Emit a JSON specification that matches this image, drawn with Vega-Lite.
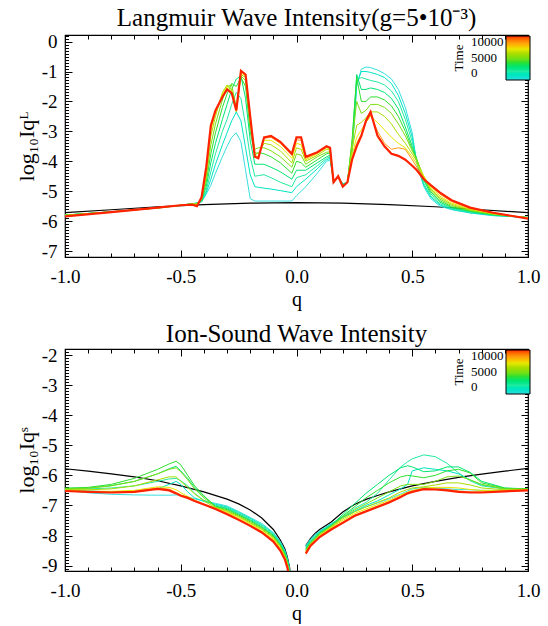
{
"$schema":"https://vega.github.io/schema/vega-lite/v6.json",
"background":"white",
"padding":{"left":14,"top":4,"right":0,"bottom":0},
"config":{"font":"Liberation Serif","view":{"stroke":"black","strokeWidth":1.2},
"style":{"guide-label":{"font":"Liberation Serif"},"guide-title":{"font":"Liberation Serif"}},
"axis":{"domain":false,"grid":false,"tickColor":"black","labelColor":"black","titleColor":"black","labelFont":"Liberation Serif","titleFont":"Liberation Serif","labelFontSize":19,"titleFontSize":20,"titleFontWeight":"normal","labelOverlap":false,"labelFlush":false,"tickWidth":1,"minExtent":0},
"title":{"font":"Liberation Serif","fontSize":25,"fontWeight":"normal","color":"black","offset":-4},
"legend":{"labelFont":"Liberation Serif","titleFont":"Liberation Serif","labelColor":"black","titleColor":"black"}},
"datasets":{
"LK":[{"q":-1,"v":-5.72},{"q":-0.8,"v":-5.62},{"q":-0.6,"v":-5.52},{"q":-0.4,"v":-5.45},{"q":-0.2,"v":-5.4},{"q":0,"v":-5.38},{"q":0.2,"v":-5.4},{"q":0.4,"v":-5.45},{"q":0.6,"v":-5.52},{"q":0.8,"v":-5.62},{"q":1,"v":-5.72}],
"L":[
{"t":0,"q":-1,"v":-5.8},{"t":0,"q":-0.8,"v":-5.69},{"t":0,"q":-0.6,"v":-5.56},{"t":0,"q":-0.5,"v":-5.47},{"t":0,"q":-0.45,"v":-5.42},{"t":0,"q":-0.43,"v":-5.4},{"t":0,"q":-0.41,"v":-5.36},{"t":0,"q":-0.39,"v":-5.1},{"t":0,"q":-0.37,"v":-4.8},{"t":0,"q":-0.35,"v":-4.4},{"t":0,"q":-0.32,"v":-3.85},{"t":0,"q":-0.3,"v":-3.5},{"t":0,"q":-0.28,"v":-3.2},{"t":0,"q":-0.26,"v":-3.05},{"t":0,"q":-0.24,"v":-3.35},{"t":0,"q":-0.22,"v":-4.3},{"t":0,"q":-0.2,"v":-5.25},{"t":0,"q":-0.18,"v":-5.33},{"t":0,"q":-0.165,"v":-5.33},{"t":0,"q":-0.14,"v":-5.33},{"t":0,"q":-0.11,"v":-5.33},{"t":0,"q":-0.07,"v":-5.33},{"t":0,"q":-0.02,"v":-5.33},{"t":0,"q":0,"v":-5.15},{"t":0,"q":0.02,"v":-5.0},{"t":0,"q":0.04,"v":-4.85},{"t":0,"q":0.09,"v":-4.4},{"t":0,"q":0.13,"v":-4.0},{"t":0,"q":0.145,"v":-3.95},{"t":0,"q":0.16,"v":-4.65},{"t":0,"q":0.18,"v":-4.55},{"t":0,"q":0.2,"v":-4.75},{"t":0,"q":0.22,"v":-4.7},{"t":0,"q":0.24,"v":-3.8},{"t":0,"q":0.26,"v":-1.5},{"t":0,"q":0.28,"v":-0.92},{"t":0,"q":0.3,"v":-0.85},{"t":0,"q":0.32,"v":-0.87},{"t":0,"q":0.35,"v":-0.95},{"t":0,"q":0.38,"v":-1.07},{"t":0,"q":0.41,"v":-1.25},{"t":0,"q":0.44,"v":-1.6},{"t":0,"q":0.47,"v":-2.2},{"t":0,"q":0.5,"v":-3.05},{"t":0,"q":0.52,"v":-4.1},{"t":0,"q":0.55,"v":-4.85},{"t":0,"q":0.58,"v":-5.25},{"t":0,"q":0.62,"v":-5.5},{"t":0,"q":0.67,"v":-5.62},{"t":0,"q":0.75,"v":-5.73},{"t":0,"q":0.85,"v":-5.82},{"t":0,"q":1,"v":-5.88},
{"t":1000,"q":-1,"v":-5.8},{"t":1000,"q":-0.8,"v":-5.69},{"t":1000,"q":-0.6,"v":-5.56},{"t":1000,"q":-0.5,"v":-5.47},{"t":1000,"q":-0.45,"v":-5.42},{"t":1000,"q":-0.43,"v":-5.4},{"t":1000,"q":-0.41,"v":-5.35},{"t":1000,"q":-0.39,"v":-5.05},{"t":1000,"q":-0.37,"v":-4.6},{"t":1000,"q":-0.35,"v":-4.1},{"t":1000,"q":-0.32,"v":-3.45},{"t":1000,"q":-0.3,"v":-3.05},{"t":1000,"q":-0.28,"v":-2.65},{"t":1000,"q":-0.26,"v":-2.35},{"t":1000,"q":-0.24,"v":-2.65},{"t":1000,"q":-0.22,"v":-3.55},{"t":1000,"q":-0.2,"v":-4.45},{"t":1000,"q":-0.18,"v":-4.85},{"t":1000,"q":-0.165,"v":-4.87},{"t":1000,"q":-0.14,"v":-4.9},{"t":1000,"q":-0.11,"v":-4.93},{"t":1000,"q":-0.07,"v":-4.98},{"t":1000,"q":-0.02,"v":-5.05},{"t":1000,"q":0,"v":-4.85},{"t":1000,"q":0.02,"v":-4.72},{"t":1000,"q":0.04,"v":-4.6},{"t":1000,"q":0.09,"v":-4.25},{"t":1000,"q":0.13,"v":-3.95},{"t":1000,"q":0.145,"v":-3.9},{"t":1000,"q":0.16,"v":-4.67},{"t":1000,"q":0.18,"v":-4.52},{"t":1000,"q":0.2,"v":-4.77},{"t":1000,"q":0.22,"v":-4.7},{"t":1000,"q":0.24,"v":-3.7},{"t":1000,"q":0.26,"v":-1.4},{"t":1000,"q":0.28,"v":-1.0},{"t":1000,"q":0.3,"v":-1.0},{"t":1000,"q":0.32,"v":-1.03},{"t":1000,"q":0.35,"v":-1.1},{"t":1000,"q":0.38,"v":-1.2},{"t":1000,"q":0.41,"v":-1.4},{"t":1000,"q":0.44,"v":-1.8},{"t":1000,"q":0.47,"v":-2.4},{"t":1000,"q":0.5,"v":-3.2},{"t":1000,"q":0.52,"v":-4.05},{"t":1000,"q":0.55,"v":-4.8},{"t":1000,"q":0.58,"v":-5.2},{"t":1000,"q":0.62,"v":-5.46},{"t":1000,"q":0.67,"v":-5.6},{"t":1000,"q":0.75,"v":-5.72},{"t":1000,"q":0.85,"v":-5.81},{"t":1000,"q":1,"v":-5.88},
{"t":2000,"q":-1,"v":-5.8},{"t":2000,"q":-0.8,"v":-5.69},{"t":2000,"q":-0.6,"v":-5.56},{"t":2000,"q":-0.5,"v":-5.47},{"t":2000,"q":-0.45,"v":-5.42},{"t":2000,"q":-0.43,"v":-5.4},{"t":2000,"q":-0.41,"v":-5.34},{"t":2000,"q":-0.39,"v":-4.98},{"t":2000,"q":-0.37,"v":-4.35},{"t":2000,"q":-0.35,"v":-3.75},{"t":2000,"q":-0.32,"v":-3.0},{"t":2000,"q":-0.3,"v":-2.6},{"t":2000,"q":-0.28,"v":-2.1},{"t":2000,"q":-0.26,"v":-1.7},{"t":2000,"q":-0.24,"v":-1.9},{"t":2000,"q":-0.22,"v":-2.8},{"t":2000,"q":-0.2,"v":-3.85},{"t":2000,"q":-0.18,"v":-4.5},{"t":2000,"q":-0.165,"v":-4.48},{"t":2000,"q":-0.14,"v":-4.45},{"t":2000,"q":-0.11,"v":-4.55},{"t":2000,"q":-0.07,"v":-4.7},{"t":2000,"q":-0.02,"v":-4.85},{"t":2000,"q":0,"v":-4.55},{"t":2000,"q":0.02,"v":-4.5},{"t":2000,"q":0.04,"v":-4.45},{"t":2000,"q":0.09,"v":-4.15},{"t":2000,"q":0.13,"v":-3.9},{"t":2000,"q":0.145,"v":-3.85},{"t":2000,"q":0.16,"v":-4.68},{"t":2000,"q":0.18,"v":-4.5},{"t":2000,"q":0.2,"v":-4.78},{"t":2000,"q":0.22,"v":-4.7},{"t":2000,"q":0.24,"v":-3.6},{"t":2000,"q":0.26,"v":-1.3},{"t":2000,"q":0.28,"v":-1.2},{"t":2000,"q":0.3,"v":-1.25},{"t":2000,"q":0.32,"v":-1.3},{"t":2000,"q":0.35,"v":-1.35},{"t":2000,"q":0.38,"v":-1.45},{"t":2000,"q":0.41,"v":-1.65},{"t":2000,"q":0.44,"v":-2.0},{"t":2000,"q":0.47,"v":-2.6},{"t":2000,"q":0.5,"v":-3.35},{"t":2000,"q":0.52,"v":-4.0},{"t":2000,"q":0.55,"v":-4.75},{"t":2000,"q":0.58,"v":-5.15},{"t":2000,"q":0.62,"v":-5.42},{"t":2000,"q":0.67,"v":-5.58},{"t":2000,"q":0.75,"v":-5.7},{"t":2000,"q":0.85,"v":-5.8},{"t":2000,"q":1,"v":-5.88},
{"t":3000,"q":-1,"v":-5.8},{"t":3000,"q":-0.8,"v":-5.69},{"t":3000,"q":-0.6,"v":-5.56},{"t":3000,"q":-0.5,"v":-5.47},{"t":3000,"q":-0.45,"v":-5.42},{"t":3000,"q":-0.43,"v":-5.4},{"t":3000,"q":-0.41,"v":-5.32},{"t":3000,"q":-0.39,"v":-4.85},{"t":3000,"q":-0.37,"v":-4.05},{"t":3000,"q":-0.35,"v":-3.4},{"t":3000,"q":-0.32,"v":-2.6},{"t":3000,"q":-0.3,"v":-2.1},{"t":3000,"q":-0.28,"v":-1.6},{"t":3000,"q":-0.26,"v":-1.25},{"t":3000,"q":-0.24,"v":-1.15},{"t":3000,"q":-0.22,"v":-1.9},{"t":3000,"q":-0.2,"v":-3.3},{"t":3000,"q":-0.18,"v":-4.1},{"t":3000,"q":-0.165,"v":-4.1},{"t":3000,"q":-0.14,"v":-4.1},{"t":3000,"q":-0.11,"v":-4.2},{"t":3000,"q":-0.07,"v":-4.35},{"t":3000,"q":-0.02,"v":-4.6},{"t":3000,"q":0,"v":-4.3},{"t":3000,"q":0.02,"v":-4.3},{"t":3000,"q":0.04,"v":-4.3},{"t":3000,"q":0.09,"v":-4.05},{"t":3000,"q":0.13,"v":-3.85},{"t":3000,"q":0.145,"v":-3.8},{"t":3000,"q":0.16,"v":-4.7},{"t":3000,"q":0.18,"v":-4.5},{"t":3000,"q":0.2,"v":-4.8},{"t":3000,"q":0.22,"v":-4.7},{"t":3000,"q":0.24,"v":-3.4},{"t":3000,"q":0.26,"v":-1.1},{"t":3000,"q":0.28,"v":-1.6},{"t":3000,"q":0.3,"v":-1.6},{"t":3000,"q":0.32,"v":-1.55},{"t":3000,"q":0.35,"v":-1.6},{"t":3000,"q":0.38,"v":-1.7},{"t":3000,"q":0.41,"v":-1.9},{"t":3000,"q":0.44,"v":-2.25},{"t":3000,"q":0.47,"v":-2.85},{"t":3000,"q":0.5,"v":-3.5},{"t":3000,"q":0.52,"v":-3.95},{"t":3000,"q":0.55,"v":-4.65},{"t":3000,"q":0.58,"v":-5.08},{"t":3000,"q":0.62,"v":-5.37},{"t":3000,"q":0.67,"v":-5.55},{"t":3000,"q":0.75,"v":-5.68},{"t":3000,"q":0.85,"v":-5.79},{"t":3000,"q":1,"v":-5.88},
{"t":4000,"q":-1,"v":-5.8},{"t":4000,"q":-0.8,"v":-5.69},{"t":4000,"q":-0.6,"v":-5.56},{"t":4000,"q":-0.5,"v":-5.47},{"t":4000,"q":-0.45,"v":-5.42},{"t":4000,"q":-0.43,"v":-5.42},{"t":4000,"q":-0.41,"v":-5.3},{"t":4000,"q":-0.39,"v":-4.7},{"t":4000,"q":-0.37,"v":-3.75},{"t":4000,"q":-0.35,"v":-3.05},{"t":4000,"q":-0.32,"v":-2.2},{"t":4000,"q":-0.3,"v":-1.75},{"t":4000,"q":-0.28,"v":-1.4},{"t":4000,"q":-0.26,"v":-1.5},{"t":4000,"q":-0.24,"v":-1.2},{"t":4000,"q":-0.22,"v":-1.5},{"t":4000,"q":-0.2,"v":-3.0},{"t":4000,"q":-0.18,"v":-3.8},{"t":4000,"q":-0.165,"v":-3.7},{"t":4000,"q":-0.14,"v":-3.75},{"t":4000,"q":-0.11,"v":-3.85},{"t":4000,"q":-0.07,"v":-4.05},{"t":4000,"q":-0.02,"v":-4.4},{"t":4000,"q":0,"v":-4.0},{"t":4000,"q":0.02,"v":-4.05},{"t":4000,"q":0.04,"v":-4.2},{"t":4000,"q":0.09,"v":-3.95},{"t":4000,"q":0.13,"v":-3.75},{"t":4000,"q":0.145,"v":-3.72},{"t":4000,"q":0.16,"v":-4.7},{"t":4000,"q":0.18,"v":-4.5},{"t":4000,"q":0.2,"v":-4.8},{"t":4000,"q":0.22,"v":-4.7},{"t":4000,"q":0.24,"v":-3.3},{"t":4000,"q":0.26,"v":-1.2},{"t":4000,"q":0.28,"v":-2.0},{"t":4000,"q":0.3,"v":-2.0},{"t":4000,"q":0.32,"v":-1.85},{"t":4000,"q":0.35,"v":-1.85},{"t":4000,"q":0.38,"v":-1.95},{"t":4000,"q":0.41,"v":-2.15},{"t":4000,"q":0.44,"v":-2.5},{"t":4000,"q":0.47,"v":-3.0},{"t":4000,"q":0.5,"v":-3.6},{"t":4000,"q":0.52,"v":-3.95},{"t":4000,"q":0.55,"v":-4.6},{"t":4000,"q":0.58,"v":-5.02},{"t":4000,"q":0.62,"v":-5.32},{"t":4000,"q":0.67,"v":-5.52},{"t":4000,"q":0.75,"v":-5.66},{"t":4000,"q":0.85,"v":-5.78},{"t":4000,"q":1,"v":-5.88},
{"t":5000,"q":-1,"v":-5.8},{"t":5000,"q":-0.8,"v":-5.69},{"t":5000,"q":-0.6,"v":-5.56},{"t":5000,"q":-0.5,"v":-5.47},{"t":5000,"q":-0.45,"v":-5.42},{"t":5000,"q":-0.43,"v":-5.42},{"t":5000,"q":-0.41,"v":-5.28},{"t":5000,"q":-0.39,"v":-4.55},{"t":5000,"q":-0.37,"v":-3.45},{"t":5000,"q":-0.35,"v":-2.75},{"t":5000,"q":-0.32,"v":-1.95},{"t":5000,"q":-0.3,"v":-1.5},{"t":5000,"q":-0.28,"v":-1.45},{"t":5000,"q":-0.26,"v":-2.2},{"t":5000,"q":-0.24,"v":-1.15},{"t":5000,"q":-0.22,"v":-1.3},{"t":5000,"q":-0.2,"v":-2.8},{"t":5000,"q":-0.18,"v":-3.6},{"t":5000,"q":-0.165,"v":-3.55},{"t":5000,"q":-0.14,"v":-3.55},{"t":5000,"q":-0.11,"v":-3.65},{"t":5000,"q":-0.07,"v":-3.85},{"t":5000,"q":-0.02,"v":-4.2},{"t":5000,"q":0,"v":-3.75},{"t":5000,"q":0.02,"v":-3.8},{"t":5000,"q":0.04,"v":-4.1},{"t":5000,"q":0.09,"v":-3.85},{"t":5000,"q":0.13,"v":-3.7},{"t":5000,"q":0.145,"v":-3.68},{"t":5000,"q":0.16,"v":-4.72},{"t":5000,"q":0.18,"v":-4.5},{"t":5000,"q":0.2,"v":-4.82},{"t":5000,"q":0.22,"v":-4.7},{"t":5000,"q":0.24,"v":-3.4},{"t":5000,"q":0.26,"v":-2.0},{"t":5000,"q":0.28,"v":-2.4},{"t":5000,"q":0.3,"v":-2.3},{"t":5000,"q":0.32,"v":-2.1},{"t":5000,"q":0.35,"v":-2.1},{"t":5000,"q":0.38,"v":-2.2},{"t":5000,"q":0.41,"v":-2.4},{"t":5000,"q":0.44,"v":-2.75},{"t":5000,"q":0.47,"v":-3.15},{"t":5000,"q":0.5,"v":-3.65},{"t":5000,"q":0.52,"v":-3.95},{"t":5000,"q":0.55,"v":-4.55},{"t":5000,"q":0.58,"v":-4.97},{"t":5000,"q":0.62,"v":-5.27},{"t":5000,"q":0.67,"v":-5.48},{"t":5000,"q":0.75,"v":-5.64},{"t":5000,"q":0.85,"v":-5.77},{"t":5000,"q":1,"v":-5.88},
{"t":6000,"q":-1,"v":-5.81},{"t":6000,"q":-0.8,"v":-5.69},{"t":6000,"q":-0.6,"v":-5.56},{"t":6000,"q":-0.5,"v":-5.47},{"t":6000,"q":-0.45,"v":-5.43},{"t":6000,"q":-0.43,"v":-5.43},{"t":6000,"q":-0.41,"v":-5.27},{"t":6000,"q":-0.39,"v":-4.45},{"t":6000,"q":-0.37,"v":-3.15},{"t":6000,"q":-0.35,"v":-2.5},{"t":6000,"q":-0.32,"v":-1.7},{"t":6000,"q":-0.3,"v":-1.45},{"t":6000,"q":-0.28,"v":-1.6},{"t":6000,"q":-0.26,"v":-2.35},{"t":6000,"q":-0.24,"v":-1.1},{"t":6000,"q":-0.22,"v":-1.2},{"t":6000,"q":-0.2,"v":-2.7},{"t":6000,"q":-0.18,"v":-3.7},{"t":6000,"q":-0.165,"v":-3.75},{"t":6000,"q":-0.14,"v":-3.4},{"t":6000,"q":-0.11,"v":-3.45},{"t":6000,"q":-0.07,"v":-3.65},{"t":6000,"q":-0.02,"v":-4.05},{"t":6000,"q":0,"v":-3.55},{"t":6000,"q":0.02,"v":-3.6},{"t":6000,"q":0.04,"v":-4.0},{"t":6000,"q":0.09,"v":-3.8},{"t":6000,"q":0.13,"v":-3.6},{"t":6000,"q":0.145,"v":-3.62},{"t":6000,"q":0.16,"v":-4.72},{"t":6000,"q":0.18,"v":-4.5},{"t":6000,"q":0.2,"v":-4.83},{"t":6000,"q":0.22,"v":-4.7},{"t":6000,"q":0.24,"v":-3.6},{"t":6000,"q":0.26,"v":-2.8},{"t":6000,"q":0.28,"v":-2.7},{"t":6000,"q":0.3,"v":-2.55},{"t":6000,"q":0.32,"v":-2.35},{"t":6000,"q":0.35,"v":-2.35},{"t":6000,"q":0.38,"v":-2.5},{"t":6000,"q":0.41,"v":-2.75},{"t":6000,"q":0.44,"v":-3.1},{"t":6000,"q":0.47,"v":-3.4},{"t":6000,"q":0.5,"v":-3.75},{"t":6000,"q":0.52,"v":-4.0},{"t":6000,"q":0.55,"v":-4.5},{"t":6000,"q":0.58,"v":-4.92},{"t":6000,"q":0.62,"v":-5.22},{"t":6000,"q":0.67,"v":-5.44},{"t":6000,"q":0.75,"v":-5.62},{"t":6000,"q":0.85,"v":-5.76},{"t":6000,"q":1,"v":-5.89},
{"t":7000,"q":-1,"v":-5.82},{"t":7000,"q":-0.8,"v":-5.7},{"t":7000,"q":-0.6,"v":-5.56},{"t":7000,"q":-0.5,"v":-5.47},{"t":7000,"q":-0.45,"v":-5.44},{"t":7000,"q":-0.43,"v":-5.45},{"t":7000,"q":-0.41,"v":-5.25},{"t":7000,"q":-0.39,"v":-4.35},{"t":7000,"q":-0.37,"v":-2.95},{"t":7000,"q":-0.35,"v":-2.4},{"t":7000,"q":-0.32,"v":-1.75},{"t":7000,"q":-0.3,"v":-1.5},{"t":7000,"q":-0.28,"v":-1.65},{"t":7000,"q":-0.26,"v":-2.3},{"t":7000,"q":-0.24,"v":-1.05},{"t":7000,"q":-0.22,"v":-1.15},{"t":7000,"q":-0.2,"v":-2.6},{"t":7000,"q":-0.18,"v":-3.8},{"t":7000,"q":-0.165,"v":-3.85},{"t":7000,"q":-0.14,"v":-3.3},{"t":7000,"q":-0.11,"v":-3.3},{"t":7000,"q":-0.07,"v":-3.5},{"t":7000,"q":-0.02,"v":-3.9},{"t":7000,"q":0,"v":-3.4},{"t":7000,"q":0.02,"v":-3.45},{"t":7000,"q":0.04,"v":-3.95},{"t":7000,"q":0.09,"v":-3.75},{"t":7000,"q":0.13,"v":-3.55},{"t":7000,"q":0.145,"v":-3.58},{"t":7000,"q":0.16,"v":-4.7},{"t":7000,"q":0.18,"v":-4.5},{"t":7000,"q":0.2,"v":-4.84},{"t":7000,"q":0.22,"v":-4.7},{"t":7000,"q":0.24,"v":-3.8},{"t":7000,"q":0.26,"v":-3.2},{"t":7000,"q":0.28,"v":-2.95},{"t":7000,"q":0.3,"v":-2.7},{"t":7000,"q":0.32,"v":-2.5},{"t":7000,"q":0.35,"v":-2.7},{"t":7000,"q":0.38,"v":-2.95},{"t":7000,"q":0.41,"v":-3.2},{"t":7000,"q":0.44,"v":-3.4},{"t":7000,"q":0.47,"v":-3.55},{"t":7000,"q":0.5,"v":-3.85},{"t":7000,"q":0.52,"v":-4.1},{"t":7000,"q":0.55,"v":-4.5},{"t":7000,"q":0.58,"v":-4.87},{"t":7000,"q":0.62,"v":-5.17},{"t":7000,"q":0.67,"v":-5.4},{"t":7000,"q":0.75,"v":-5.6},{"t":7000,"q":0.85,"v":-5.75},{"t":7000,"q":1,"v":-5.9},
{"t":8500,"q":-1,"v":-5.83},{"t":8500,"q":-0.8,"v":-5.7},{"t":8500,"q":-0.6,"v":-5.55},{"t":8500,"q":-0.5,"v":-5.47},{"t":8500,"q":-0.45,"v":-5.45},{"t":8500,"q":-0.43,"v":-5.48},{"t":8500,"q":-0.41,"v":-5.22},{"t":8500,"q":-0.39,"v":-4.25},{"t":8500,"q":-0.37,"v":-2.85},{"t":8500,"q":-0.35,"v":-2.33},{"t":8500,"q":-0.32,"v":-1.82},{"t":8500,"q":-0.3,"v":-1.57},{"t":8500,"q":-0.28,"v":-1.7},{"t":8500,"q":-0.26,"v":-2.3},{"t":8500,"q":-0.24,"v":-1.0},{"t":8500,"q":-0.22,"v":-1.1},{"t":8500,"q":-0.2,"v":-2.55},{"t":8500,"q":-0.18,"v":-3.85},{"t":8500,"q":-0.165,"v":-3.88},{"t":8500,"q":-0.14,"v":-3.23},{"t":8500,"q":-0.11,"v":-3.2},{"t":8500,"q":-0.07,"v":-3.4},{"t":8500,"q":-0.02,"v":-3.8},{"t":8500,"q":0,"v":-3.28},{"t":8500,"q":0.02,"v":-3.3},{"t":8500,"q":0.04,"v":-3.9},{"t":8500,"q":0.09,"v":-3.72},{"t":8500,"q":0.13,"v":-3.52},{"t":8500,"q":0.145,"v":-3.56},{"t":8500,"q":0.16,"v":-4.7},{"t":8500,"q":0.18,"v":-4.5},{"t":8500,"q":0.2,"v":-4.85},{"t":8500,"q":0.22,"v":-4.7},{"t":8500,"q":0.24,"v":-3.9},{"t":8500,"q":0.26,"v":-3.4},{"t":8500,"q":0.28,"v":-3.1},{"t":8500,"q":0.3,"v":-2.7},{"t":8500,"q":0.32,"v":-2.45},{"t":8500,"q":0.35,"v":-3.0},{"t":8500,"q":0.38,"v":-3.4},{"t":8500,"q":0.41,"v":-3.6},{"t":8500,"q":0.44,"v":-3.55},{"t":8500,"q":0.47,"v":-3.6},{"t":8500,"q":0.5,"v":-3.95},{"t":8500,"q":0.52,"v":-4.2},{"t":8500,"q":0.55,"v":-4.55},{"t":8500,"q":0.58,"v":-4.83},{"t":8500,"q":0.62,"v":-5.1},{"t":8500,"q":0.67,"v":-5.35},{"t":8500,"q":0.75,"v":-5.57},{"t":8500,"q":0.85,"v":-5.74},{"t":8500,"q":1,"v":-5.91},
{"t":10000,"q":-1,"v":-5.84},{"t":10000,"q":-0.8,"v":-5.7},{"t":10000,"q":-0.6,"v":-5.55},{"t":10000,"q":-0.5,"v":-5.47},{"t":10000,"q":-0.45,"v":-5.45},{"t":10000,"q":-0.43,"v":-5.5},{"t":10000,"q":-0.41,"v":-5.2},{"t":10000,"q":-0.39,"v":-4.2},{"t":10000,"q":-0.37,"v":-2.8},{"t":10000,"q":-0.35,"v":-2.3},{"t":10000,"q":-0.32,"v":-1.85},{"t":10000,"q":-0.3,"v":-1.6},{"t":10000,"q":-0.28,"v":-1.72},{"t":10000,"q":-0.26,"v":-2.3},{"t":10000,"q":-0.24,"v":-0.98},{"t":10000,"q":-0.22,"v":-1.1},{"t":10000,"q":-0.2,"v":-2.5},{"t":10000,"q":-0.18,"v":-3.85},{"t":10000,"q":-0.165,"v":-3.9},{"t":10000,"q":-0.14,"v":-3.2},{"t":10000,"q":-0.11,"v":-3.15},{"t":10000,"q":-0.07,"v":-3.35},{"t":10000,"q":-0.02,"v":-3.75},{"t":10000,"q":0,"v":-3.2},{"t":10000,"q":0.02,"v":-3.2},{"t":10000,"q":0.04,"v":-3.85},{"t":10000,"q":0.09,"v":-3.7},{"t":10000,"q":0.13,"v":-3.5},{"t":10000,"q":0.145,"v":-3.55},{"t":10000,"q":0.16,"v":-4.7},{"t":10000,"q":0.18,"v":-4.5},{"t":10000,"q":0.2,"v":-4.85},{"t":10000,"q":0.22,"v":-4.7},{"t":10000,"q":0.24,"v":-3.95},{"t":10000,"q":0.26,"v":-3.5},{"t":10000,"q":0.28,"v":-3.15},{"t":10000,"q":0.3,"v":-2.65},{"t":10000,"q":0.32,"v":-2.35},{"t":10000,"q":0.35,"v":-3.15},{"t":10000,"q":0.38,"v":-3.5},{"t":10000,"q":0.41,"v":-3.75},{"t":10000,"q":0.44,"v":-3.82},{"t":10000,"q":0.47,"v":-3.95},{"t":10000,"q":0.5,"v":-4.15},{"t":10000,"q":0.52,"v":-4.3},{"t":10000,"q":0.55,"v":-4.6},{"t":10000,"q":0.58,"v":-4.8},{"t":10000,"q":0.62,"v":-5.05},{"t":10000,"q":0.67,"v":-5.3},{"t":10000,"q":0.75,"v":-5.55},{"t":10000,"q":0.85,"v":-5.72},{"t":10000,"q":1,"v":-5.92}
],
"SK":[{"s":1,"q":-1,"v":-5.78},{"s":1,"q":-0.9,"v":-5.86},{"s":1,"q":-0.8,"v":-5.95},{"s":1,"q":-0.7,"v":-6.05},{"s":1,"q":-0.6,"v":-6.18},{"s":1,"q":-0.5,"v":-6.35},{"s":1,"q":-0.4,"v":-6.55},{"s":1,"q":-0.3,"v":-6.79},{"s":1,"q":-0.25,"v":-6.95},{"s":1,"q":-0.2,"v":-7.15},{"s":1,"q":-0.15,"v":-7.42},{"s":1,"q":-0.1,"v":-7.8},{"s":1,"q":-0.07,"v":-8.15},{"s":1,"q":-0.05,"v":-8.45},{"s":1,"q":-0.04,"v":-8.7},{"s":1,"q":-0.03,"v":-9.05},{"s":1,"q":-0.02,"v":-9.8},
{"s":2,"q":0.04,"v":-8.34},{"s":2,"q":0.06,"v":-8.1},{"s":2,"q":0.08,"v":-7.93},{"s":2,"q":0.1,"v":-7.8},{"s":2,"q":0.15,"v":-7.55},{"s":2,"q":0.2,"v":-7.22},{"s":2,"q":0.25,"v":-6.97},{"s":2,"q":0.3,"v":-6.8},{"s":2,"q":0.35,"v":-6.67},{"s":2,"q":0.4,"v":-6.55},{"s":2,"q":0.5,"v":-6.35},{"s":2,"q":0.6,"v":-6.2},{"s":2,"q":0.7,"v":-6.07},{"s":2,"q":0.8,"v":-5.96},{"s":2,"q":0.9,"v":-5.86},{"s":2,"q":1,"v":-5.77}],
"SA":[
{"t":0,"q":-1,"v":-6.5},{"t":0,"q":-0.9,"v":-6.58},{"t":0,"q":-0.8,"v":-6.63},{"t":0,"q":-0.7,"v":-6.65},{"t":0,"q":-0.6,"v":-6.66},{"t":0,"q":-0.55,"v":-6.66},{"t":0,"q":-0.52,"v":-6.65},{"t":0,"q":-0.5,"v":-6.67},{"t":0,"q":-0.47,"v":-6.72},{"t":0,"q":-0.44,"v":-6.78},{"t":0,"q":-0.4,"v":-6.85},{"t":0,"q":-0.35,"v":-6.93},{"t":0,"q":-0.3,"v":-7.02},{"t":0,"q":-0.25,"v":-7.2},{"t":0,"q":-0.2,"v":-7.4},{"t":0,"q":-0.15,"v":-7.6},{"t":0,"q":-0.1,"v":-7.9},{"t":0,"q":-0.07,"v":-8.2},{"t":0,"q":-0.05,"v":-8.5},{"t":0,"q":-0.04,"v":-8.75},{"t":0,"q":-0.03,"v":-9.1},{"t":0,"q":-0.02,"v":-9.8},
{"t":1000,"q":-1,"v":-6.48},{"t":1000,"q":-0.9,"v":-6.52},{"t":1000,"q":-0.8,"v":-6.55},{"t":1000,"q":-0.7,"v":-6.55},{"t":1000,"q":-0.6,"v":-6.45},{"t":1000,"q":-0.55,"v":-6.3},{"t":1000,"q":-0.52,"v":-6.2},{"t":1000,"q":-0.5,"v":-6.3},{"t":1000,"q":-0.47,"v":-6.55},{"t":1000,"q":-0.44,"v":-6.75},{"t":1000,"q":-0.4,"v":-6.87},{"t":1000,"q":-0.35,"v":-6.96},{"t":1000,"q":-0.3,"v":-7.05},{"t":1000,"q":-0.25,"v":-7.23},{"t":1000,"q":-0.2,"v":-7.43},{"t":1000,"q":-0.15,"v":-7.64},{"t":1000,"q":-0.1,"v":-7.93},{"t":1000,"q":-0.07,"v":-8.23},{"t":1000,"q":-0.05,"v":-8.53},{"t":1000,"q":-0.04,"v":-8.78},{"t":1000,"q":-0.03,"v":-9.13},{"t":1000,"q":-0.02,"v":-9.8},
{"t":2000,"q":-1,"v":-6.45},{"t":2000,"q":-0.9,"v":-6.45},{"t":2000,"q":-0.8,"v":-6.42},{"t":2000,"q":-0.7,"v":-6.35},{"t":2000,"q":-0.6,"v":-6.2},{"t":2000,"q":-0.55,"v":-6.12},{"t":2000,"q":-0.52,"v":-6.1},{"t":2000,"q":-0.5,"v":-6.18},{"t":2000,"q":-0.47,"v":-6.35},{"t":2000,"q":-0.44,"v":-6.6},{"t":2000,"q":-0.4,"v":-6.83},{"t":2000,"q":-0.35,"v":-6.99},{"t":2000,"q":-0.3,"v":-7.08},{"t":2000,"q":-0.25,"v":-7.26},{"t":2000,"q":-0.2,"v":-7.46},{"t":2000,"q":-0.15,"v":-7.67},{"t":2000,"q":-0.1,"v":-7.96},{"t":2000,"q":-0.07,"v":-8.26},{"t":2000,"q":-0.05,"v":-8.56},{"t":2000,"q":-0.04,"v":-8.81},{"t":2000,"q":-0.03,"v":-9.16},{"t":2000,"q":-0.02,"v":-9.8},
{"t":3000,"q":-1,"v":-6.43},{"t":3000,"q":-0.9,"v":-6.42},{"t":3000,"q":-0.8,"v":-6.34},{"t":3000,"q":-0.7,"v":-6.2},{"t":3000,"q":-0.6,"v":-5.95},{"t":3000,"q":-0.55,"v":-5.78},{"t":3000,"q":-0.52,"v":-5.7},{"t":3000,"q":-0.5,"v":-5.85},{"t":3000,"q":-0.47,"v":-6.1},{"t":3000,"q":-0.44,"v":-6.4},{"t":3000,"q":-0.4,"v":-6.7},{"t":3000,"q":-0.35,"v":-7.02},{"t":3000,"q":-0.3,"v":-7.11},{"t":3000,"q":-0.25,"v":-7.29},{"t":3000,"q":-0.2,"v":-7.49},{"t":3000,"q":-0.15,"v":-7.71},{"t":3000,"q":-0.1,"v":-7.99},{"t":3000,"q":-0.07,"v":-8.29},{"t":3000,"q":-0.05,"v":-8.6},{"t":3000,"q":-0.04,"v":-8.84},{"t":3000,"q":-0.03,"v":-9.2},{"t":3000,"q":-0.02,"v":-9.8},
{"t":4000,"q":-1,"v":-6.43},{"t":4000,"q":-0.9,"v":-6.4},{"t":4000,"q":-0.8,"v":-6.3},{"t":4000,"q":-0.7,"v":-6.1},{"t":4000,"q":-0.6,"v":-5.8},{"t":4000,"q":-0.55,"v":-5.62},{"t":4000,"q":-0.52,"v":-5.53},{"t":4000,"q":-0.5,"v":-5.65},{"t":4000,"q":-0.47,"v":-6.0},{"t":4000,"q":-0.44,"v":-6.35},{"t":4000,"q":-0.4,"v":-6.68},{"t":4000,"q":-0.35,"v":-7.04},{"t":4000,"q":-0.3,"v":-7.14},{"t":4000,"q":-0.25,"v":-7.32},{"t":4000,"q":-0.2,"v":-7.52},{"t":4000,"q":-0.15,"v":-7.74},{"t":4000,"q":-0.1,"v":-8.02},{"t":4000,"q":-0.07,"v":-8.32},{"t":4000,"q":-0.05,"v":-8.63},{"t":4000,"q":-0.04,"v":-8.87},{"t":4000,"q":-0.03,"v":-9.23},{"t":4000,"q":-0.02,"v":-9.8},
{"t":5000,"q":-1,"v":-6.45},{"t":5000,"q":-0.9,"v":-6.43},{"t":5000,"q":-0.8,"v":-6.35},{"t":5000,"q":-0.7,"v":-6.2},{"t":5000,"q":-0.6,"v":-5.95},{"t":5000,"q":-0.55,"v":-5.8},{"t":5000,"q":-0.52,"v":-5.75},{"t":5000,"q":-0.5,"v":-5.88},{"t":5000,"q":-0.47,"v":-6.15},{"t":5000,"q":-0.44,"v":-6.45},{"t":5000,"q":-0.4,"v":-6.75},{"t":5000,"q":-0.35,"v":-7.06},{"t":5000,"q":-0.3,"v":-7.17},{"t":5000,"q":-0.25,"v":-7.35},{"t":5000,"q":-0.2,"v":-7.55},{"t":5000,"q":-0.15,"v":-7.77},{"t":5000,"q":-0.1,"v":-8.05},{"t":5000,"q":-0.07,"v":-8.35},{"t":5000,"q":-0.05,"v":-8.66},{"t":5000,"q":-0.04,"v":-8.9},{"t":5000,"q":-0.03,"v":-9.26},{"t":5000,"q":-0.02,"v":-9.8},
{"t":6000,"q":-1,"v":-6.47},{"t":6000,"q":-0.9,"v":-6.48},{"t":6000,"q":-0.8,"v":-6.45},{"t":6000,"q":-0.7,"v":-6.35},{"t":6000,"q":-0.6,"v":-6.15},{"t":6000,"q":-0.55,"v":-6.05},{"t":6000,"q":-0.52,"v":-6.05},{"t":6000,"q":-0.5,"v":-6.2},{"t":6000,"q":-0.47,"v":-6.4},{"t":6000,"q":-0.44,"v":-6.62},{"t":6000,"q":-0.4,"v":-6.85},{"t":6000,"q":-0.35,"v":-7.08},{"t":6000,"q":-0.3,"v":-7.2},{"t":6000,"q":-0.25,"v":-7.38},{"t":6000,"q":-0.2,"v":-7.58},{"t":6000,"q":-0.15,"v":-7.8},{"t":6000,"q":-0.1,"v":-8.08},{"t":6000,"q":-0.07,"v":-8.38},{"t":6000,"q":-0.05,"v":-8.69},{"t":6000,"q":-0.04,"v":-8.93},{"t":6000,"q":-0.03,"v":-9.3},{"t":6000,"q":-0.02,"v":-9.8},
{"t":7000,"q":-1,"v":-6.5},{"t":7000,"q":-0.9,"v":-6.53},{"t":7000,"q":-0.8,"v":-6.53},{"t":7000,"q":-0.7,"v":-6.5},{"t":7000,"q":-0.6,"v":-6.38},{"t":7000,"q":-0.55,"v":-6.4},{"t":7000,"q":-0.52,"v":-6.48},{"t":7000,"q":-0.5,"v":-6.58},{"t":7000,"q":-0.47,"v":-6.7},{"t":7000,"q":-0.44,"v":-6.82},{"t":7000,"q":-0.4,"v":-6.96},{"t":7000,"q":-0.35,"v":-7.09},{"t":7000,"q":-0.3,"v":-7.23},{"t":7000,"q":-0.25,"v":-7.41},{"t":7000,"q":-0.2,"v":-7.61},{"t":7000,"q":-0.15,"v":-7.84},{"t":7000,"q":-0.1,"v":-8.12},{"t":7000,"q":-0.07,"v":-8.42},{"t":7000,"q":-0.05,"v":-8.72},{"t":7000,"q":-0.04,"v":-8.97},{"t":7000,"q":-0.03,"v":-9.33},{"t":7000,"q":-0.02,"v":-9.8},
{"t":8500,"q":-1,"v":-6.51},{"t":8500,"q":-0.9,"v":-6.54},{"t":8500,"q":-0.8,"v":-6.56},{"t":8500,"q":-0.7,"v":-6.53},{"t":8500,"q":-0.6,"v":-6.42},{"t":8500,"q":-0.55,"v":-6.46},{"t":8500,"q":-0.52,"v":-6.57},{"t":8500,"q":-0.5,"v":-6.65},{"t":8500,"q":-0.47,"v":-6.73},{"t":8500,"q":-0.44,"v":-6.84},{"t":8500,"q":-0.4,"v":-6.96},{"t":8500,"q":-0.35,"v":-7.11},{"t":8500,"q":-0.3,"v":-7.26},{"t":8500,"q":-0.25,"v":-7.45},{"t":8500,"q":-0.2,"v":-7.65},{"t":8500,"q":-0.15,"v":-7.87},{"t":8500,"q":-0.1,"v":-8.16},{"t":8500,"q":-0.07,"v":-8.46},{"t":8500,"q":-0.05,"v":-8.76},{"t":8500,"q":-0.04,"v":-9.01},{"t":8500,"q":-0.03,"v":-9.37},{"t":8500,"q":-0.02,"v":-9.8},
{"t":10000,"q":-1,"v":-6.52},{"t":10000,"q":-0.9,"v":-6.55},{"t":10000,"q":-0.8,"v":-6.57},{"t":10000,"q":-0.7,"v":-6.55},{"t":10000,"q":-0.6,"v":-6.45},{"t":10000,"q":-0.55,"v":-6.5},{"t":10000,"q":-0.52,"v":-6.6},{"t":10000,"q":-0.5,"v":-6.68},{"t":10000,"q":-0.47,"v":-6.75},{"t":10000,"q":-0.44,"v":-6.85},{"t":10000,"q":-0.4,"v":-6.97},{"t":10000,"q":-0.35,"v":-7.12},{"t":10000,"q":-0.3,"v":-7.29},{"t":10000,"q":-0.25,"v":-7.48},{"t":10000,"q":-0.2,"v":-7.68},{"t":10000,"q":-0.15,"v":-7.9},{"t":10000,"q":-0.1,"v":-8.2},{"t":10000,"q":-0.07,"v":-8.5},{"t":10000,"q":-0.05,"v":-8.8},{"t":10000,"q":-0.04,"v":-9.05},{"t":10000,"q":-0.03,"v":-9.4},{"t":10000,"q":-0.02,"v":-9.8}
],
"SB":[
{"t":0,"q":0.04,"v":-8.35},{"t":0,"q":0.06,"v":-8.12},{"t":0,"q":0.08,"v":-7.97},{"t":0,"q":0.1,"v":-7.85},{"t":0,"q":0.15,"v":-7.6},{"t":0,"q":0.2,"v":-7.38},{"t":0,"q":0.25,"v":-7.2},{"t":0,"q":0.3,"v":-7.05},{"t":0,"q":0.35,"v":-6.92},{"t":0,"q":0.4,"v":-6.78},{"t":0,"q":0.45,"v":-6.62},{"t":0,"q":0.48,"v":-6.52},{"t":0,"q":0.5,"v":-6.45},{"t":0,"q":0.55,"v":-6.4},{"t":0,"q":0.6,"v":-6.42},{"t":0,"q":0.65,"v":-6.45},{"t":0,"q":0.7,"v":-6.47},{"t":0,"q":0.75,"v":-6.48},{"t":0,"q":0.8,"v":-6.5},{"t":0,"q":0.9,"v":-6.5},{"t":0,"q":1,"v":-6.48},
{"t":1000,"q":0.04,"v":-8.38},{"t":1000,"q":0.06,"v":-8.15},{"t":1000,"q":0.08,"v":-8.0},{"t":1000,"q":0.1,"v":-7.87},{"t":1000,"q":0.15,"v":-7.62},{"t":1000,"q":0.2,"v":-7.4},{"t":1000,"q":0.25,"v":-7.2},{"t":1000,"q":0.3,"v":-7.0},{"t":1000,"q":0.35,"v":-6.85},{"t":1000,"q":0.4,"v":-6.65},{"t":1000,"q":0.45,"v":-6.45},{"t":1000,"q":0.48,"v":-6.3},{"t":1000,"q":0.5,"v":-5.85},{"t":1000,"q":0.55,"v":-5.75},{"t":1000,"q":0.6,"v":-5.8},{"t":1000,"q":0.65,"v":-5.85},{"t":1000,"q":0.7,"v":-5.95},{"t":1000,"q":0.75,"v":-6.15},{"t":1000,"q":0.8,"v":-6.32},{"t":1000,"q":0.9,"v":-6.45},{"t":1000,"q":1,"v":-6.45},
{"t":2000,"q":0.04,"v":-8.41},{"t":2000,"q":0.06,"v":-8.18},{"t":2000,"q":0.08,"v":-8.03},{"t":2000,"q":0.1,"v":-7.89},{"t":2000,"q":0.15,"v":-7.64},{"t":2000,"q":0.2,"v":-7.38},{"t":2000,"q":0.25,"v":-7.1},{"t":2000,"q":0.3,"v":-6.9},{"t":2000,"q":0.35,"v":-6.6},{"t":2000,"q":0.4,"v":-6.15},{"t":2000,"q":0.45,"v":-5.72},{"t":2000,"q":0.48,"v":-5.55},{"t":2000,"q":0.5,"v":-5.45},{"t":2000,"q":0.55,"v":-5.32},{"t":2000,"q":0.6,"v":-5.38},{"t":2000,"q":0.65,"v":-5.6},{"t":2000,"q":0.7,"v":-5.92},{"t":2000,"q":0.75,"v":-6.18},{"t":2000,"q":0.8,"v":-6.35},{"t":2000,"q":0.9,"v":-6.45},{"t":2000,"q":1,"v":-6.45},
{"t":3000,"q":0.04,"v":-8.44},{"t":3000,"q":0.06,"v":-8.21},{"t":3000,"q":0.08,"v":-8.06},{"t":3000,"q":0.1,"v":-7.91},{"t":3000,"q":0.15,"v":-7.66},{"t":3000,"q":0.2,"v":-7.3},{"t":3000,"q":0.25,"v":-6.95},{"t":3000,"q":0.3,"v":-6.6},{"t":3000,"q":0.35,"v":-6.3},{"t":3000,"q":0.4,"v":-6.0},{"t":3000,"q":0.45,"v":-5.75},{"t":3000,"q":0.48,"v":-5.68},{"t":3000,"q":0.5,"v":-5.72},{"t":3000,"q":0.55,"v":-5.88},{"t":3000,"q":0.6,"v":-5.85},{"t":3000,"q":0.65,"v":-5.72},{"t":3000,"q":0.7,"v":-5.72},{"t":3000,"q":0.75,"v":-5.9},{"t":3000,"q":0.8,"v":-6.2},{"t":3000,"q":0.9,"v":-6.42},{"t":3000,"q":1,"v":-6.45},
{"t":4000,"q":0.04,"v":-8.47},{"t":4000,"q":0.06,"v":-8.24},{"t":4000,"q":0.08,"v":-8.09},{"t":4000,"q":0.1,"v":-7.93},{"t":4000,"q":0.15,"v":-7.68},{"t":4000,"q":0.2,"v":-7.35},{"t":4000,"q":0.25,"v":-7.05},{"t":4000,"q":0.3,"v":-6.75},{"t":4000,"q":0.35,"v":-6.5},{"t":4000,"q":0.4,"v":-6.25},{"t":4000,"q":0.45,"v":-6.05},{"t":4000,"q":0.48,"v":-6.0},{"t":4000,"q":0.5,"v":-6.02},{"t":4000,"q":0.55,"v":-6.08},{"t":4000,"q":0.6,"v":-6.0},{"t":4000,"q":0.65,"v":-5.85},{"t":4000,"q":0.7,"v":-5.8},{"t":4000,"q":0.75,"v":-5.92},{"t":4000,"q":0.8,"v":-6.25},{"t":4000,"q":0.9,"v":-6.43},{"t":4000,"q":1,"v":-6.45},
{"t":5000,"q":0.04,"v":-8.5},{"t":5000,"q":0.06,"v":-8.27},{"t":5000,"q":0.08,"v":-8.12},{"t":5000,"q":0.1,"v":-7.96},{"t":5000,"q":0.15,"v":-7.7},{"t":5000,"q":0.2,"v":-7.4},{"t":5000,"q":0.25,"v":-7.15},{"t":5000,"q":0.3,"v":-6.95},{"t":5000,"q":0.35,"v":-6.75},{"t":5000,"q":0.4,"v":-6.55},{"t":5000,"q":0.45,"v":-6.35},{"t":5000,"q":0.48,"v":-6.3},{"t":5000,"q":0.5,"v":-6.3},{"t":5000,"q":0.55,"v":-6.3},{"t":5000,"q":0.6,"v":-6.2},{"t":5000,"q":0.65,"v":-6.05},{"t":5000,"q":0.7,"v":-6.02},{"t":5000,"q":0.75,"v":-6.15},{"t":5000,"q":0.8,"v":-6.3},{"t":5000,"q":0.9,"v":-6.45},{"t":5000,"q":1,"v":-6.46},
{"t":6000,"q":0.04,"v":-8.52},{"t":6000,"q":0.06,"v":-8.29},{"t":6000,"q":0.08,"v":-8.14},{"t":6000,"q":0.1,"v":-7.98},{"t":6000,"q":0.15,"v":-7.72},{"t":6000,"q":0.2,"v":-7.45},{"t":6000,"q":0.25,"v":-7.22},{"t":6000,"q":0.3,"v":-7.05},{"t":6000,"q":0.35,"v":-6.9},{"t":6000,"q":0.4,"v":-6.75},{"t":6000,"q":0.45,"v":-6.55},{"t":6000,"q":0.48,"v":-6.47},{"t":6000,"q":0.5,"v":-6.42},{"t":6000,"q":0.55,"v":-6.38},{"t":6000,"q":0.6,"v":-6.32},{"t":6000,"q":0.65,"v":-6.25},{"t":6000,"q":0.7,"v":-6.25},{"t":6000,"q":0.75,"v":-6.32},{"t":6000,"q":0.8,"v":-6.42},{"t":6000,"q":0.9,"v":-6.48},{"t":6000,"q":1,"v":-6.47},
{"t":7000,"q":0.04,"v":-8.55},{"t":7000,"q":0.06,"v":-8.31},{"t":7000,"q":0.08,"v":-8.16},{"t":7000,"q":0.1,"v":-8.0},{"t":7000,"q":0.15,"v":-7.74},{"t":7000,"q":0.2,"v":-7.5},{"t":7000,"q":0.25,"v":-7.27},{"t":7000,"q":0.3,"v":-7.12},{"t":7000,"q":0.35,"v":-6.97},{"t":7000,"q":0.4,"v":-6.83},{"t":7000,"q":0.45,"v":-6.65},{"t":7000,"q":0.48,"v":-6.56},{"t":7000,"q":0.5,"v":-6.5},{"t":7000,"q":0.55,"v":-6.42},{"t":7000,"q":0.6,"v":-6.4},{"t":7000,"q":0.65,"v":-6.4},{"t":7000,"q":0.7,"v":-6.42},{"t":7000,"q":0.75,"v":-6.47},{"t":7000,"q":0.8,"v":-6.5},{"t":7000,"q":0.9,"v":-6.5},{"t":7000,"q":1,"v":-6.48},
{"t":8500,"q":0.04,"v":-8.57},{"t":8500,"q":0.06,"v":-8.33},{"t":8500,"q":0.08,"v":-8.18},{"t":8500,"q":0.1,"v":-8.03},{"t":8500,"q":0.15,"v":-7.77},{"t":8500,"q":0.2,"v":-7.55},{"t":8500,"q":0.25,"v":-7.32},{"t":8500,"q":0.3,"v":-7.17},{"t":8500,"q":0.35,"v":-7.02},{"t":8500,"q":0.4,"v":-6.87},{"t":8500,"q":0.45,"v":-6.7},{"t":8500,"q":0.48,"v":-6.6},{"t":8500,"q":0.5,"v":-6.53},{"t":8500,"q":0.55,"v":-6.45},{"t":8500,"q":0.6,"v":-6.45},{"t":8500,"q":0.65,"v":-6.47},{"t":8500,"q":0.7,"v":-6.52},{"t":8500,"q":0.75,"v":-6.55},{"t":8500,"q":0.8,"v":-6.55},{"t":8500,"q":0.9,"v":-6.52},{"t":8500,"q":1,"v":-6.49},
{"t":10000,"q":0.04,"v":-8.6},{"t":10000,"q":0.06,"v":-8.35},{"t":10000,"q":0.08,"v":-8.2},{"t":10000,"q":0.1,"v":-8.05},{"t":10000,"q":0.15,"v":-7.8},{"t":10000,"q":0.2,"v":-7.58},{"t":10000,"q":0.25,"v":-7.35},{"t":10000,"q":0.3,"v":-7.2},{"t":10000,"q":0.35,"v":-7.05},{"t":10000,"q":0.4,"v":-6.9},{"t":10000,"q":0.45,"v":-6.72},{"t":10000,"q":0.48,"v":-6.6},{"t":10000,"q":0.5,"v":-6.55},{"t":10000,"q":0.55,"v":-6.46},{"t":10000,"q":0.6,"v":-6.47},{"t":10000,"q":0.65,"v":-6.5},{"t":10000,"q":0.7,"v":-6.55},{"t":10000,"q":0.75,"v":-6.57},{"t":10000,"q":0.8,"v":-6.57},{"t":10000,"q":0.9,"v":-6.53},{"t":10000,"q":1,"v":-6.5}
]
},
"resolve":{"scale":{"color":"independent"},"legend":{"color":"independent"}},
"spacing":92,
"bounds":"flush",
"vconcat":[
{"width":463,"height":222,
"title":{"text":"Langmuir Wave Intensity(g=5•10⁻³)"},
"resolve":{"axis":{"x":"independent","y":"independent"}},
"layer":[
{"data":{"name":"LK"},"mark":{"type":"line","color":"black","strokeWidth":1.2,"clip":true},
"encoding":{
"x":{"field":"q","type":"quantitative","scale":{"domain":[-1,1],"nice":false,"zero":false},
"axis":{"orient":"bottom","values":[-1,-0.9,-0.8,-0.7,-0.6,-0.5,-0.4,-0.3,-0.2,-0.1,0,0.1,0.2,0.3,0.4,0.5,0.6,0.7,0.8,0.9,1],"labelExpr":"abs(datum.value*2-round(datum.value*2))<0.01 ? replace(format(datum.value,'.1f'),'−','-') : ''","tickSize":{"condition":{"test":"abs(datum.value*2-round(datum.value*2))<0.01","value":-7},"value":-4},"labelPadding":17,"labelFont":"Liberation Serif","titleFont":"Liberation Serif","title":"q","titlePadding":0}},
"y":{"field":"v","type":"quantitative","scale":{"domain":[-7.2,0.22],"nice":false,"zero":false},
"axis":{"orient":"left","values":[-7.2,-7.1,-7,-6.9,-6.8,-6.7,-6.6,-6.5,-6.4,-6.3,-6.2,-6.1,-6,-5.9,-5.8,-5.7,-5.6,-5.5,-5.4,-5.3,-5.2,-5.1,-5,-4.9,-4.8,-4.7,-4.6,-4.5,-4.4,-4.3,-4.2,-4.1,-4,-3.9,-3.8,-3.7,-3.6,-3.5,-3.4,-3.3,-3.2,-3.1,-3,-2.9,-2.8,-2.7,-2.6,-2.5,-2.4,-2.3,-2.2,-2.1,-2,-1.9,-1.8,-1.7,-1.6,-1.5,-1.4,-1.3,-1.2,-1.1,-1,-0.9,-0.8,-0.7,-0.6,-0.5,-0.4,-0.3,-0.2,-0.1,0,0.1,0.2],"labelExpr":"abs(datum.value-round(datum.value))<0.01 ? replace(format(datum.value,'d'),'−','-') : ''","tickSize":{"condition":{"test":"abs(datum.value-round(datum.value))<0.01","value":-7},"value":-3.5},"labelPadding":15,"labelFont":"Liberation Serif","titleFont":"Liberation Serif","title":"log₁₀Iqᴸ","titleFontSize":22,"titlePadding":3}}}},
{"data":{"name":"L"},"mark":{"type":"line","clip":true},
"encoding":{
"x":{"field":"q","type":"quantitative","scale":{"domain":[-1,1],"nice":false,"zero":false},
"axis":{"orient":"top","values":[-1,-0.9,-0.8,-0.7,-0.6,-0.5,-0.4,-0.3,-0.2,-0.1,0,0.1,0.2,0.3,0.4,0.5,0.6,0.7,0.8,0.9,1],"labels":false,"title":null,"tickSize":{"condition":{"test":"abs(datum.value*2-round(datum.value*2))<0.01","value":-7},"value":-4}}},
"y":{"field":"v","type":"quantitative","scale":{"domain":[-7.2,0.22],"nice":false,"zero":false},
"axis":{"orient":"right","values":[-7.2,-7.1,-7,-6.9,-6.8,-6.7,-6.6,-6.5,-6.4,-6.3,-6.2,-6.1,-6,-5.9,-5.8,-5.7,-5.6,-5.5,-5.4,-5.3,-5.2,-5.1,-5,-4.9,-4.8,-4.7,-4.6,-4.5,-4.4,-4.3,-4.2,-4.1,-4,-3.9,-3.8,-3.7,-3.6,-3.5,-3.4,-3.3,-3.2,-3.1,-3,-2.9,-2.8,-2.7,-2.6,-2.5,-2.4,-2.3,-2.2,-2.1,-2,-1.9,-1.8,-1.7,-1.6,-1.5,-1.4,-1.3,-1.2,-1.1,-1,-0.9,-0.8,-0.7,-0.6,-0.5,-0.4,-0.3,-0.2,-0.1,0,0.1,0.2],"labels":false,"title":null,"tickSize":{"condition":{"test":"abs(datum.value-round(datum.value))<0.01","value":-7},"value":-3.5}}},
"detail":{"field":"t"},
"color":{"field":"t","type":"quantitative","scale":{"domain":[0,2000,4000,6000,7000,8500,10000],"range":["#38dede","#22eaa0","#2ee02e","#aadd00","#e8e800","#ff9a10","#ff2200"]},
"legend":{"orient":"none","legendX":388,"legendY":1,"direction":"vertical","gradientLength":44,"gradientThickness":24,"values":[0,5000,10000],"labelExpr":"datum.value==0 ? '\u2007\u2007\u2007\u20070' : datum.value==5000 ? '\u20075000' : '10000'","title":"Time","titleOrient":"left","titleFontSize":13,"titleFontWeight":"normal","labelFontSize":13,"labelOffset":-59,"labelOverlap":false,"gradientStrokeColor":"black","gradientStrokeWidth":1,"titleAnchor":"middle","titlePadding":40,"labelFont":"Liberation Serif","titleFont":"Liberation Serif"}},
"strokeWidth":{"condition":{"test":"datum.t>=10000","value":2.2},"value":1}}}
]},
{"width":463,"height":222,
"title":{"text":"Ion-Sound Wave Intensity"},
"resolve":{"axis":{"x":"independent","y":"independent"}},
"layer":[
{"data":{"name":"SK"},"mark":{"type":"line","color":"black","strokeWidth":1.2,"clip":true},
"encoding":{
"x":{"field":"q","type":"quantitative","scale":{"domain":[-1,1],"nice":false,"zero":false},
"axis":{"orient":"bottom","values":[-1,-0.9,-0.8,-0.7,-0.6,-0.5,-0.4,-0.3,-0.2,-0.1,0,0.1,0.2,0.3,0.4,0.5,0.6,0.7,0.8,0.9,1],"labelExpr":"abs(datum.value*2-round(datum.value*2))<0.01 ? replace(format(datum.value,'.1f'),'−','-') : ''","tickSize":{"condition":{"test":"abs(datum.value*2-round(datum.value*2))<0.01","value":-7},"value":-4},"labelPadding":17,"labelFont":"Liberation Serif","titleFont":"Liberation Serif","title":"q","titlePadding":0}},
"y":{"field":"v","type":"quantitative","scale":{"domain":[-9.18,-1.8],"nice":false,"zero":false},
"axis":{"orient":"left","values":[-9.1,-9,-8.9,-8.8,-8.7,-8.6,-8.5,-8.4,-8.3,-8.2,-8.1,-8,-7.9,-7.8,-7.7,-7.6,-7.5,-7.4,-7.3,-7.2,-7.1,-7,-6.9,-6.8,-6.7,-6.6,-6.5,-6.4,-6.3,-6.2,-6.1,-6,-5.9,-5.8,-5.7,-5.6,-5.5,-5.4,-5.3,-5.2,-5.1,-5,-4.9,-4.8,-4.7,-4.6,-4.5,-4.4,-4.3,-4.2,-4.1,-4,-3.9,-3.8,-3.7,-3.6,-3.5,-3.4,-3.3,-3.2,-3.1,-3,-2.9,-2.8,-2.7,-2.6,-2.5,-2.4,-2.3,-2.2,-2.1,-2,-1.9],"labelExpr":"abs(datum.value-round(datum.value))<0.01 ? replace(format(datum.value,'d'),'−','-') : ''","tickSize":{"condition":{"test":"abs(datum.value-round(datum.value))<0.01","value":-7},"value":-3.5},"labelPadding":15,"labelFont":"Liberation Serif","titleFont":"Liberation Serif","title":"log₁₀Iqˢ","titleFontSize":22,"titlePadding":3}},
"detail":{"field":"s"}}},
{"data":{"name":"SA"},"mark":{"type":"line","clip":true},
"encoding":{
"x":{"field":"q","type":"quantitative","scale":{"domain":[-1,1],"nice":false,"zero":false},
"axis":{"orient":"top","values":[-1,-0.9,-0.8,-0.7,-0.6,-0.5,-0.4,-0.3,-0.2,-0.1,0,0.1,0.2,0.3,0.4,0.5,0.6,0.7,0.8,0.9,1],"labels":false,"title":null,"tickSize":{"condition":{"test":"abs(datum.value*2-round(datum.value*2))<0.01","value":-7},"value":-4}}},
"y":{"field":"v","type":"quantitative","scale":{"domain":[-9.18,-1.8],"nice":false,"zero":false},
"axis":{"orient":"right","values":[-9.1,-9,-8.9,-8.8,-8.7,-8.6,-8.5,-8.4,-8.3,-8.2,-8.1,-8,-7.9,-7.8,-7.7,-7.6,-7.5,-7.4,-7.3,-7.2,-7.1,-7,-6.9,-6.8,-6.7,-6.6,-6.5,-6.4,-6.3,-6.2,-6.1,-6,-5.9,-5.8,-5.7,-5.6,-5.5,-5.4,-5.3,-5.2,-5.1,-5,-4.9,-4.8,-4.7,-4.6,-4.5,-4.4,-4.3,-4.2,-4.1,-4,-3.9,-3.8,-3.7,-3.6,-3.5,-3.4,-3.3,-3.2,-3.1,-3,-2.9,-2.8,-2.7,-2.6,-2.5,-2.4,-2.3,-2.2,-2.1,-2,-1.9],"labels":false,"title":null,"tickSize":{"condition":{"test":"abs(datum.value-round(datum.value))<0.01","value":-7},"value":-3.5}}},
"detail":{"field":"t"},
"color":{"field":"t","type":"quantitative","scale":{"domain":[0,2000,4000,6000,7000,8500,10000],"range":["#38dede","#22eaa0","#2ee02e","#aadd00","#e8e800","#ff9a10","#ff2200"]},
"legend":{"orient":"none","legendX":388,"legendY":1,"direction":"vertical","gradientLength":44,"gradientThickness":24,"values":[0,5000,10000],"labelExpr":"datum.value==0 ? '\u2007\u2007\u2007\u20070' : datum.value==5000 ? '\u20075000' : '10000'","title":"Time","titleOrient":"left","titleFontSize":13,"titleFontWeight":"normal","labelFontSize":13,"labelOffset":-59,"labelOverlap":false,"gradientStrokeColor":"black","gradientStrokeWidth":1,"titleAnchor":"middle","titlePadding":40,"labelFont":"Liberation Serif","titleFont":"Liberation Serif"}},
"strokeWidth":{"condition":{"test":"datum.t>=10000","value":2.2},"value":1}}},
{"data":{"name":"SB"},"mark":{"type":"line","clip":true},
"encoding":{
"x":{"field":"q","type":"quantitative","axis":null},
"y":{"field":"v","type":"quantitative","axis":null},
"detail":{"field":"t"},
"color":{"field":"t","type":"quantitative"},
"strokeWidth":{"condition":{"test":"datum.t>=10000","value":2.2},"value":1}}}
]}
]
}
